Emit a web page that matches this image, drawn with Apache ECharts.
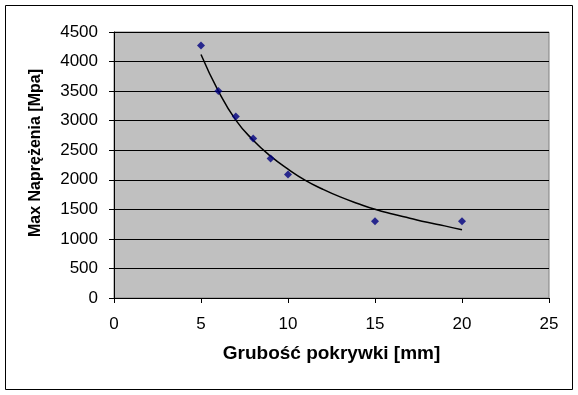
<!DOCTYPE html>
<html><head><meta charset="utf-8">
<script src="https://cdn.jsdelivr.net/npm/echarts@6/dist/echarts.min.js"></script>
<style>html,body{margin:0;padding:0;background:#fff}#c{width:578px;height:395px}</style>
</head><body><div id="c"></div>
<script>
const thickness = [5, 6, 7, 8, 9, 10, 15, 20];
const stress = [4270, 3500, 3070, 2700, 2360, 2090, 1300, 1300];
const trendX = [5, 6, 7, 8, 9, 10, 11, 12, 13, 14, 15, 16, 17, 18, 19, 20];
const trendY = [4120, 3500, 3010, 2670, 2400, 2180, 1990, 1840, 1710, 1600, 1500, 1420, 1350, 1280, 1220, 1155];
const xTitle = 'Grubość pokrywki [mm]';
const yTitle = 'Max Naprężenia [Mpa]';

const chart = echarts.init(document.getElementById('c'));
const font = 'Liberation Sans, Arial, sans-serif';
chart.setOption({
  animation: false,
  grid: { left: 114, top: 32, width: 435, height: 266, show: true, backgroundColor: '#C0C0C0', borderColor: '#808080', borderWidth: 1 },
  graphic: [
    { type: 'rect', shape: { x: 5.5, y: 5.5, width: 567, height: 384 }, style: { fill: 'none', stroke: '#000', lineWidth: 1 }, z: -10 },
    { type: 'text', x: 36, y: 153, rotation: Math.PI / 2, style: { text: yTitle, font: 'bold 16px ' + font, fill: '#000', textAlign: 'center', textVerticalAlign: 'middle' } }
  ],
  xAxis: {
    type: 'value', min: 0, max: 25, interval: 5,
    axisLine: { show: true, onZero: false, lineStyle: { color: '#000', width: 1 } },
    axisTick: { show: true, inside: false, length: 5, lineStyle: { color: '#000' } },
    axisLabel: { color: '#000', fontSize: 17, fontFamily: font, margin: 18 },
    splitLine: { show: false },
    name: xTitle, nameLocation: 'middle', nameGap: 46,
    nameTextStyle: { color: '#000', fontSize: 19, fontWeight: 'bold', fontFamily: font }
  },
  yAxis: {
    type: 'value', min: 0, max: 4500, interval: 500,
    axisLine: { show: true, onZero: false, lineStyle: { color: '#000', width: 1 } },
    axisTick: { show: true, inside: false, length: 5, lineStyle: { color: '#000' } },
    axisLabel: { color: '#000', fontSize: 17, fontFamily: font, margin: 16, formatter: v => String(v) },
    splitLine: { show: true, lineStyle: { color: '#000', width: 1 } }
  },
  series: [
    {
      type: 'line', data: trendX.map((x, i) => [x, trendY[i]]), smooth: true, showSymbol: false,
      lineStyle: { color: '#000', width: 1.5 }, z: 2
    },
    {
      type: 'scatter', data: thickness.map((x, i) => [x, stress[i]]), symbol: 'diamond', symbolSize: 8,
      itemStyle: { color: '#000080' }, z: 3
    }
  ]
});
</script></body></html>
